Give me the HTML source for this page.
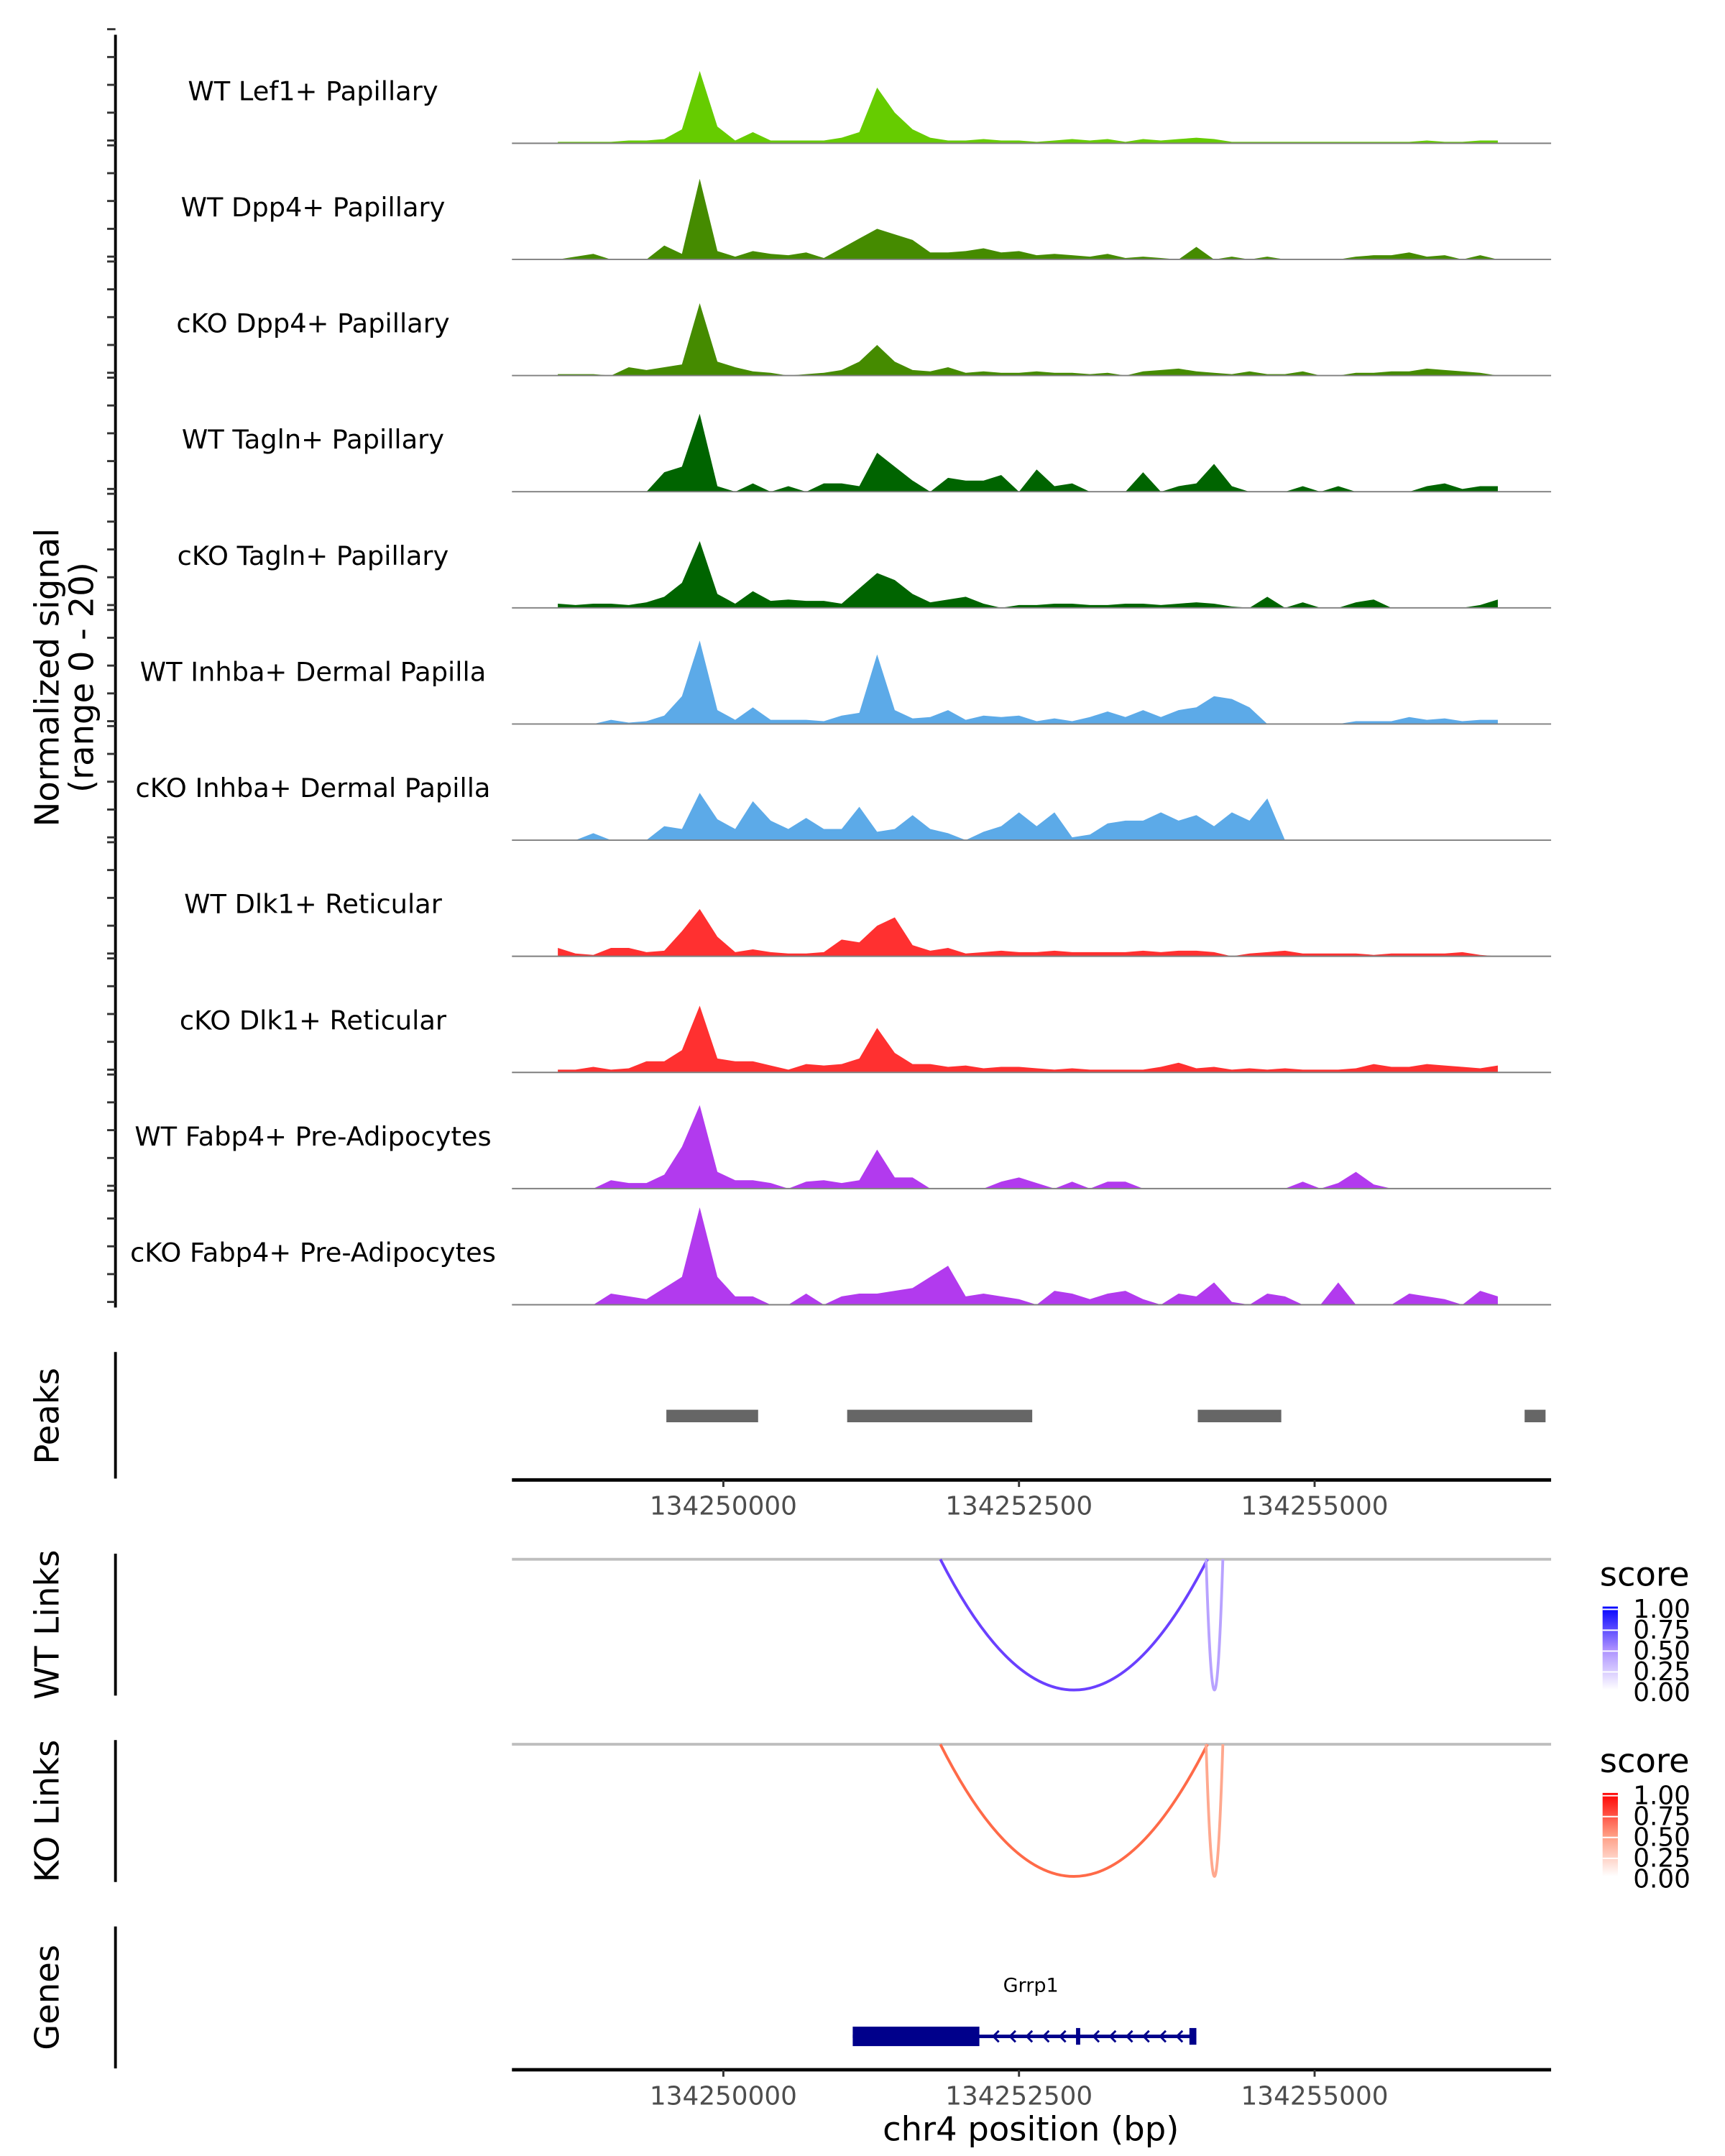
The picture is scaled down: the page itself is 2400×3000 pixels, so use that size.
<!DOCTYPE html>
<html><head><meta charset="utf-8"><style>
html,body{margin:0;padding:0;background:#fff}
svg{display:block}
text{font-family:"DejaVu Sans","Liberation Sans",sans-serif}
</style></head><body>
<svg id="chart" xmlns="http://www.w3.org/2000/svg" width="2400" height="3000" viewBox="0 0 1240 1550">
<defs>
<linearGradient id="gBlue" x1="0" y1="1" x2="0" y2="0"><stop offset="0" stop-color="#ffffff"/><stop offset="0.5" stop-color="#a88cff"/><stop offset="1" stop-color="#0000ff"/></linearGradient>
<linearGradient id="gRed" x1="0" y1="1" x2="0" y2="0"><stop offset="0" stop-color="#ffffff"/><stop offset="0.5" stop-color="#ff9a80"/><stop offset="1" stop-color="#ff0000"/></linearGradient>
</defs>
<g id="tracks"></g>
<line x1="83" y1="25" x2="83" y2="940" stroke="#000" stroke-width="2"/>
<g id="yticks"></g>
<text transform="translate(42,487) rotate(-90)" text-anchor="middle" font-size="24">Normalized signal</text>
<text transform="translate(67,487) rotate(-90)" text-anchor="middle" font-size="24">(range 0 - 20)</text>

<line x1="83" y1="972" x2="83" y2="1063" stroke="#000" stroke-width="2"/>
<text transform="translate(42,1018) rotate(-90)" text-anchor="middle" font-size="24">Peaks</text>
<g id="peaks"></g>
<g id="axis1"></g>

<line x1="83" y1="1117" x2="83" y2="1219" stroke="#000" stroke-width="2"/>
<text transform="translate(42,1168) rotate(-90)" text-anchor="middle" font-size="24">WT Links</text>
<line x1="368" y1="1121" x2="1115" y2="1121" stroke="#bebebe" stroke-width="2"/>
<g id="wtlinks"></g>

<line x1="83" y1="1251" x2="83" y2="1353" stroke="#000" stroke-width="2"/>
<text transform="translate(42,1302) rotate(-90)" text-anchor="middle" font-size="24">KO Links</text>
<line x1="368" y1="1254" x2="1115" y2="1254" stroke="#bebebe" stroke-width="2"/>
<g id="kolinks"></g>

<g>
<text x="1150" y="1140" font-size="24">score</text>
<rect x="1152" y="1155" width="11" height="60" fill="url(#gBlue)"/>
</g>
<g id="wtleg"></g>
<g>
<text x="1150" y="1274" font-size="24">score</text>
<rect x="1152" y="1289" width="11" height="60" fill="url(#gRed)"/>
</g>
<g id="koleg"></g>

<line x1="83" y1="1385" x2="83" y2="1487" stroke="#000" stroke-width="2"/>
<text transform="translate(42,1436) rotate(-90)" text-anchor="middle" font-size="24">Genes</text>
<g id="genes"></g>
<g id="axis2"></g>
<text x="741" y="1539" text-anchor="middle" font-size="24">chr4 position (bp)</text>
</svg>
<script>
const trackNames = ["WT Lef1+ Papillary","WT Dpp4+ Papillary","cKO Dpp4+ Papillary","WT Tagln+ Papillary","cKO Tagln+ Papillary","WT Inhba+ Dermal Papilla","cKO Inhba+ Dermal Papilla","WT Dlk1+ Reticular","cKO Dlk1+ Reticular","WT Fabp4+ Pre-Adipocytes","cKO Fabp4+ Pre-Adipocytes"];
const trackColors = ["#66cc00","#458b00","#458b00","#006400","#006400","#5caae8","#5caae8","#ff3030","#ff3030","#b23aee","#b23aee"];
const binStart = 134248600;
const binStep = 150;
// signal values (scale 0-80 == normalized 0-20)
const sLef1WT  = [1,1,1,1,2,2,3,10,52,12,2,8,2,2,2,2,4,8,40,22,10,4,2,2,3,2,2,1,2,3,2,3,1,3,2,3,4,3,1,1,1,1,1,1,1,1,1,1,1,2,1,1,2,2];
const sDpp4WT  = [0,2,4,0,0,0,10,4,58,6,2,6,4,3,5,1,8,15,22,18,14,5,5,6,8,5,6,3,4,3,2,4,1,2,1,0,9,0,2,0,2,0,0,0,0,2,3,3,5,2,3,0,3,0];
const sDpp4KO  = [1,1,1,0,6,4,6,8,52,10,6,3,2,0,1,2,4,10,22,10,4,3,6,2,3,2,2,3,2,2,1,2,0,3,4,5,3,2,1,3,1,1,3,0,0,2,2,3,3,5,4,3,2,0];
const sTaglnWT = [0,0,0,0,0,0,14,18,56,4,0,6,0,4,0,6,6,4,28,18,8,0,10,8,8,12,0,16,4,6,0,0,0,14,0,4,6,20,4,0,0,0,4,0,4,0,0,0,0,4,6,2,4,4];
const sTaglnKO = [3,2,3,3,2,4,8,18,48,10,3,12,5,6,5,5,3,14,25,20,10,4,6,8,3,0,2,2,3,3,2,2,3,3,2,3,4,3,1,0,8,0,4,0,0,4,6,0,0,0,0,0,2,6];
const sInhbaWT = [0,0,0,3,1,2,6,20,60,10,3,12,3,3,3,2,6,8,50,10,4,5,10,3,6,5,6,2,4,2,5,9,5,10,5,10,12,20,18,12,0,0,0,0,0,2,2,2,5,3,4,2,3,3];
const sInhbaKO = [0,0,5,0,0,0,10,8,34,15,8,28,14,8,16,8,8,24,6,8,18,8,5,0,6,10,20,10,20,2,4,12,14,14,20,14,18,10,20,14,30,0,0,0,0,0,0,0,0,0,0,0,0,0];
const sDlk1WT  = [6,2,1,6,6,3,4,18,34,14,3,5,3,2,2,3,12,10,22,28,8,4,6,2,3,4,3,3,4,3,3,3,3,4,3,4,4,3,0,2,3,4,2,2,2,2,1,2,2,2,2,3,1,0];
const sDlk1KO  = [2,2,4,2,3,8,8,16,48,10,8,8,5,2,6,5,6,10,32,14,6,6,4,5,3,4,4,3,2,3,2,2,2,2,4,7,3,4,2,3,2,3,2,2,2,3,6,4,4,6,5,4,3,5];
const sFabp4WT = [0,0,0,6,4,4,10,30,60,12,6,6,4,0,5,6,4,6,28,8,8,0,0,0,0,5,8,4,0,5,0,5,5,0,0,0,0,0,0,0,0,0,5,0,4,12,3,0,0,0,0,0,0,0];
const sFabp4KO = [0,0,0,8,6,4,12,20,70,20,6,6,0,0,8,0,6,8,8,10,12,20,28,6,8,6,4,0,10,8,4,8,10,4,0,8,6,16,2,0,8,6,0,0,16,0,0,0,8,6,4,0,10,6];
const trackValues = [sLef1WT,sDpp4WT,sDpp4KO,sTaglnWT,sTaglnKO,sInhbaWT,sInhbaKO,sDlk1WT,sDlk1KO,sFabp4WT,sFabp4KO];
const peakStarts = [134249518,134251047,134254012,134256776];
const peakEnds   = [134250294,134252612,134254718,134256953];
const xTicks = [134250000,134252500,134255000];
const wtLinkStart = [134251835,134254082];
const wtLinkEnd   = [134254094,134254224];
const wtLinkScore = [0.75,0.3];
const koLinkStart = [134251835,134254082];
const koLinkEnd   = [134254094,134254224];
const koLinkScore = [0.75,0.3];
const legendTicks = ["1.00","0.75","0.50","0.25","0.00"];
const geneName = "Grrp1";
const geneStart = 134251094, geneCdsEnd = 134252165, geneEnd = 134254000, geneMid = 134253000;

const NS="http://www.w3.org/2000/svg";
const D0=134248212, D1=134257000, X0=368, X1=1115;
const YMAX=80, TRACK_H=80;
function xs(bp){return X0+(bp-D0)*(X1-X0)/(D1-D0);}
function el(tag,attrs,parent){const e=document.createElementNS(NS,tag);for(const k in attrs)e.setAttribute(k,attrs[k]);parent.appendChild(e);return e;}

const tracks=document.getElementById('tracks');
const yt=document.getElementById('yticks');
trackNames.forEach((name,t)=>{
  const base=103+t*83.5;
  const vals=trackValues[t];
  const ys=v=>base-v*TRACK_H/YMAX;
  let d='M'+xs(binStart).toFixed(1)+','+base;
  vals.forEach((v,i)=>{d+=' L'+xs(binStart+i*binStep).toFixed(1)+','+ys(v).toFixed(1);});
  d+=' L'+xs(binStart+(vals.length-1)*binStep).toFixed(1)+','+base+' Z';
  const p=el('path',{d:d,fill:trackColors[t]},tracks);
  
  
  const bl=el('line',{x1:X0,x2:X1,y1:base,y2:base,stroke:'#7f7f7f','stroke-width':1},tracks);
  
  
  const lb=el('text',{x:225,y:base-31,'text-anchor':'middle','font-size':19},tracks);
  lb.textContent=name;
  
  
  for(let k=0;k<5;k++){
    const yy=base-k*TRACK_H/4-2;
    const tk=el('line',{x1:77,x2:83,y1:yy,y2:yy,stroke:'#333','stroke-width':1.5},yt);
    
    
  }
});

const pk=document.getElementById('peaks');
peakStarts.forEach((s,i)=>{
  const r=el('rect',{x:xs(s),y:1013.5,width:xs(peakEnds[i])-xs(s),height:9,fill:'#666666'},pk);
  
  
});

function axis(id,y){
  const g=document.getElementById(id);
  const l=el('line',{x1:X0,x2:X1,y1:y,y2:y,stroke:'#000','stroke-width':2.5},g);
  
  
  xTicks.forEach(t=>{
    const tk=el('line',{x1:xs(t),x2:xs(t),y1:y,y2:y+5,stroke:'#333','stroke-width':1.5},g);
    
    
    const tx=el('text',{x:xs(t),y:y+25,'text-anchor':'middle','font-size':18.5,fill:'#4d4d4d'},g);
    tx.textContent=t;
    
    
  });
}
axis('axis1',1064);
axis('axis2',1488);

function links(id,top,bottom,starts,ends,scores,hi,lo){
  const g=document.getElementById(id);
  starts.forEach((s,i)=>{
    const a=xs(s),b=xs(ends[i]),m=(a+b)/2,c=2*bottom-top;
    const col=scores[i]>0.5?hi:lo;
    const p=el('path',{d:`M${a},${top} Q${m},${c} ${b},${top}`,fill:'none',stroke:col,'stroke-width':2},g);
    
    
  });
}
links('wtlinks',1121,1215,wtLinkStart,wtLinkEnd,wtLinkScore,'#6a40ff','#b8a2ff');
links('kolinks',1254,1349,koLinkStart,koLinkEnd,koLinkScore,'#ff6a48','#ffa88e');

function legLabels(id,top){
  const g=document.getElementById(id);
  legendTicks.forEach((t,i)=>{
    const yy=top+2+i*15;
    const tk=el('line',{x1:1152,x2:1163,y1:yy,y2:yy,stroke:'#fff','stroke-width':1},g);
    
    
    const tx=el('text',{x:1174,y:yy+6,'font-size':18.5},g);
    tx.textContent=t;
    
    
  });
}
legLabels('wtleg',1155);
legLabels('koleg',1289);

const gg=document.getElementById('genes');
const gcol='#00008b';
const gl=el('line',{x1:xs(geneStart),x2:xs(geneEnd),y1:1464,y2:1464,stroke:gcol,'stroke-width':2.5},gg);


const gb=el('rect',{x:xs(geneStart),y:1457,width:xs(geneCdsEnd)-xs(geneStart),height:14,fill:gcol},gg);


const ge=el('rect',{x:xs(geneEnd)-5,y:1458,width:5,height:12,fill:gcol},gg);


const gm=el('rect',{x:xs(geneMid)-1.5,y:1458,width:3,height:12,fill:gcol},gg);


for(let ax=xs(geneCdsEnd)+10; ax<xs(geneEnd)-6; ax+=12){
  if(Math.abs(ax-xs(geneMid))<4) continue;
  const ar=el('path',{d:`M${ax+4},${1460} L${ax},${1464} L${ax+4},${1468}`,fill:'none',stroke:gcol,'stroke-width':1.5},gg);
  
  
}
const gn=el('text',{x:741,y:1432,'text-anchor':'middle','font-size':14},gg);
gn.textContent=geneName;


</script>
</body></html>
